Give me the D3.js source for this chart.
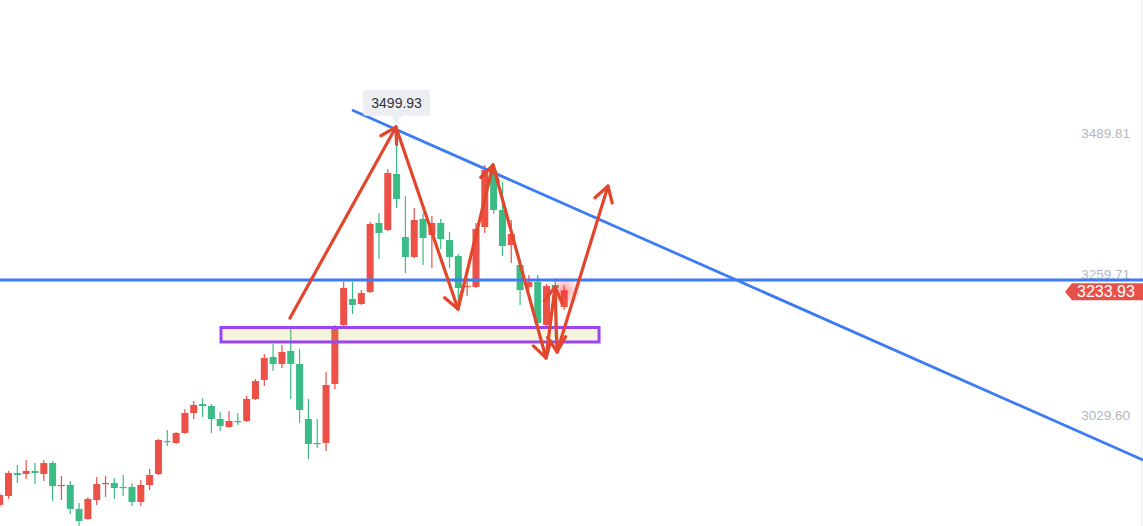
<!DOCTYPE html>
<html><head><meta charset="utf-8">
<script src="https://cdn.jsdelivr.net/npm/d3@7"></script>
<style>html,body{margin:0;padding:0;background:#fff;overflow:hidden}</style>
</head><body><svg id="c" width="1143" height="526"></svg>
<script>
// ---- data ----
const openP  = [2883.6,2898.3,2935.8,2934.2,2939.1,2934.2,2952.1,2914.6,2916.2,2877.1,2860.7,2891.7,2917.8,2919.5,2913.0,2913.0,2888.5,2916.2,2934.2,2988.0,2984.8,3001.1,3033.7,3048.4,3045.1,3023.9,3010.9,3020.6,3020.6,3056.6,3087.6,3125.1,3113.7,3134.9,3113.7,3023.9,2984.8,2984.8,3081.0,3177.3,3219.7,3211.6,3231.2,3343.8,3332.3,3423.7,3320.9,3288.3,3350.3,3324.2,3343.8,3316.0,3289.9,3239.3,3239.3,3337.2,3430.2,3365.0,3307.9,3275.2,3239.3,3247.5,3177.3,3242.6,3206.7];
const highP  = [2903.2,2939.1,2948.9,2957.0,2952.1,2957.0,2955.4,2930.9,2922.7,2886.8,2896.6,2929.3,2930.9,2927.6,2932.5,2919.5,2924.4,2942.3,2991.3,3006.0,3002.7,3040.2,3053.3,3058.2,3048.4,3035.3,3037.0,3033.7,3061.5,3089.2,3130.0,3146.3,3144.7,3172.4,3138.1,3056.6,3023.9,3100.6,3177.3,3247.5,3247.5,3234.4,3345.4,3360.1,3431.9,3499.93,3387.8,3368.2,3360.1,3355.2,3350.3,3329.1,3293.2,3254.0,3343.8,3438.4,3436.8,3410.7,3348.6,3283.4,3258.9,3258.9,3244.2,3254.0,3242.6];
const lowP   = [2880.3,2893.4,2919.5,2926.0,2917.8,2922.7,2890.1,2891.7,2868.9,2849.3,2859.5,2883.6,2896.6,2893.4,2898.3,2881.9,2881.9,2908.1,2932.5,2979.9,2983.1,2999.4,3023.9,3027.2,3001.1,3004.3,3009.2,3014.1,3019.0,3054.9,3077.8,3102.2,3107.1,3056.6,3017.4,2958.6,2976.6,2971.7,3072.9,3175.7,3195.3,3210.0,3229.5,3285.0,3330.7,3368.2,3262.2,3286.6,3275.2,3270.3,3301.3,3270.3,3205.1,3224.6,3237.7,3327.4,3358.4,3289.9,3278.5,3210.0,3234.4,3169.2,3172.4,3157.7,3201.8];
const closeP = [2899.9,2935.8,2932.5,2939.1,2935.8,2952.1,2914.6,2916.2,2877.1,2857.5,2893.4,2917.8,2919.5,2911.3,2911.3,2888.5,2916.2,2932.5,2989.6,2986.4,3001.1,3033.7,3046.8,3045.1,3023.9,3012.5,3020.6,3019.0,3056.6,3085.9,3123.5,3113.7,3133.3,3113.7,3038.6,2983.1,2983.1,3079.4,3170.8,3237.7,3210.0,3229.5,3342.1,3327.4,3425.3,3382.9,3288.3,3348.6,3319.3,3343.8,3317.6,3288.3,3237.7,3241.0,3334.0,3430.2,3365.0,3306.2,3325.8,3234.4,3247.5,3180.6,3241.0,3237.7,3233.93];
const axisTicks = [3489.81, 3259.71, 3029.60];
const lastPrice = 3233.93;
const peakPrice = 3499.93;
const peakIndex = 45;
const levelPrice = 3250.7;
const trendIdx = [39.95, 129.63];
const trendPrice = [3528.2, 2957.0];
const zoneIdx = [25.09, 67.95];
const zonePrice = [3173.2, 3149.6];
const arrowIdx   = [32.91, 44.93, 51.96, 55.93, 61.94, 62.96, 63.19, 68.97];
const arrowPrice = [3188.7, 3500.4, 3203.4, 3438.4, 3123.5, 3239.3, 3133.3, 3404.1];

// ---- scales ----
const W = 1143, H = 526;
const x = d3.scaleLinear().domain([0, 130]).range([-0.3, -0.3 + 130 * 8.82]);
const y = d3.scaleLinear().domain([3029.60, 3489.81]).range([415.5, 133.5]);
const UP = "#ec5047", DOWN = "#3bbb85", ARROW = "#e2472d", BLUE = "#3d7bf5";

const svg = d3.select("#c");
const defs = svg.append("defs");
const mk = defs.append("marker").attr("id","ah").attr("markerUnits","userSpaceOnUse")
  .attr("viewBox","-20 -15 25 30").attr("markerWidth",25).attr("markerHeight",30)
  .attr("refX",0).attr("refY",0).attr("orient","auto").style("overflow","visible");
mk.append("path").attr("d","M-15,-9L0,0L-15,9").attr("fill","none")
  .attr("stroke",ARROW).attr("stroke-width",3.2).attr("stroke-linecap","round").attr("stroke-linejoin","round");
const rg = defs.append("radialGradient").attr("id","glow");
rg.append("stop").attr("offset","0%").attr("stop-color","rgb(255,30,30)").attr("stop-opacity",0.45);
rg.append("stop").attr("offset","60%").attr("stop-color","rgb(255,60,60)").attr("stop-opacity",0.18);
rg.append("stop").attr("offset","100%").attr("stop-color","rgb(255,80,80)").attr("stop-opacity",0);

svg.append("rect").attr("width",W).attr("height",H).attr("fill","#fff");
svg.append("line").attr("x1",1141.5).attr("x2",1141.5).attr("y1",0).attr("y2",H)
  .attr("stroke","#ececf0").attr("stroke-width",1);

// axis labels
const ax = svg.append("g").attr("transform","translate(1133,0)")
  .call(d3.axisLeft(y).tickValues(axisTicks).tickSize(0).tickPadding(3).tickFormat(d3.format(".2f")));
ax.select(".domain").remove();
ax.selectAll("text").attr("fill","#b3b6c2").style("font-family","'Liberation Sans', Arial, sans-serif").style("font-size","13.5px");

// candles
const data = openP.map((o,i)=>({i, o, h:highP[i], l:lowP[i], c:closeP[i]}));
const cg = svg.append("g");
const bw = 7;
cg.selectAll("line").data(data).join("line")
  .attr("x1",d=>x(d.i)).attr("x2",d=>x(d.i))
  .attr("y1",d=>y(d.h)).attr("y2",d=>y(d.l))
  .attr("stroke",d=>d.c>=d.o?UP:DOWN).attr("stroke-width",1.2);
cg.selectAll("rect").data(data).join("rect")
  .attr("x",d=>x(d.i)-bw/2).attr("width",bw)
  .attr("y",d=>y(Math.max(d.o,d.c)))
  .attr("height",d=>Math.max(1.2, Math.abs(y(d.o)-y(d.c))))
  .attr("fill",d=>d.c>=d.o?UP:DOWN);

// glow around last candle
const li = data.length-1;
svg.append("circle").attr("cx",x(li)).attr("cy",y(lastPrice)+1).attr("r",17).attr("fill","url(#glow)");

// zone
svg.append("rect").attr("x",x(zoneIdx[0])).attr("width",x(zoneIdx[1])-x(zoneIdx[0]))
  .attr("y",y(zonePrice[0])).attr("height",y(zonePrice[1])-y(zonePrice[0]))
  .attr("fill","rgb(190,184,50)").attr("fill-opacity",0.17)
  .attr("stroke","#9b45f6").attr("stroke-width",3);

// horizontal level
svg.append("line").attr("x1",0).attr("x2",W).attr("y1",y(levelPrice)).attr("y2",y(levelPrice))
  .attr("stroke",BLUE).attr("stroke-width",2.8);
// trend line
svg.append("line").attr("x1",x(trendIdx[0])).attr("y1",y(trendPrice[0]))
  .attr("x2",x(trendIdx[1])).attr("y2",y(trendPrice[1]))
  .attr("stroke",BLUE).attr("stroke-width",2.8);

// arrows
const ag = svg.append("g");
for (let k=0;k<arrowIdx.length-1;k++){
  ag.append("line").attr("x1",x(arrowIdx[k])).attr("y1",y(arrowPrice[k]))
    .attr("x2",x(arrowIdx[k+1])).attr("y2",y(arrowPrice[k+1]))
    .attr("stroke",ARROW).attr("stroke-width",3.2).attr("stroke-linecap","round")
    .attr("marker-end","url(#ah)");
}

// peak label
const px = x(peakIndex), py = y(peakPrice);
const lg = svg.append("g");
lg.append("path")
  .attr("d",`M${px-30.5},${py-37.5}h61a3,3 0 0 1 3,3v20a3,3 0 0 1 -3,3h-24.5l-6,7l-6,-7h-24.5a3,3 0 0 1 -3,-3v-20a3,3 0 0 1 3,-3z`)
  .attr("fill","#eceef1");
lg.append("text").attr("x",px).attr("y",py-24).attr("text-anchor","middle").attr("dominant-baseline","central")
  .attr("fill","#333").style("font-family","'Liberation Sans', Arial, sans-serif").style("font-size","14px")
  .text(d3.format(".2f")(peakPrice));

// last price tag
const ty = y(lastPrice)+1.5;
svg.append("path").attr("d",`M1065,${ty}L1072,${ty-8.5}H1143V${ty+8.5}H1072Z`).attr("fill","#e8514a");
svg.append("text").attr("x",1077).attr("y",ty).attr("dominant-baseline","central")
  .attr("fill","#fff").style("font-family","'Liberation Sans', Arial, sans-serif").style("font-size","16px")
  .text(d3.format(".2f")(lastPrice));
</script></body></html>
